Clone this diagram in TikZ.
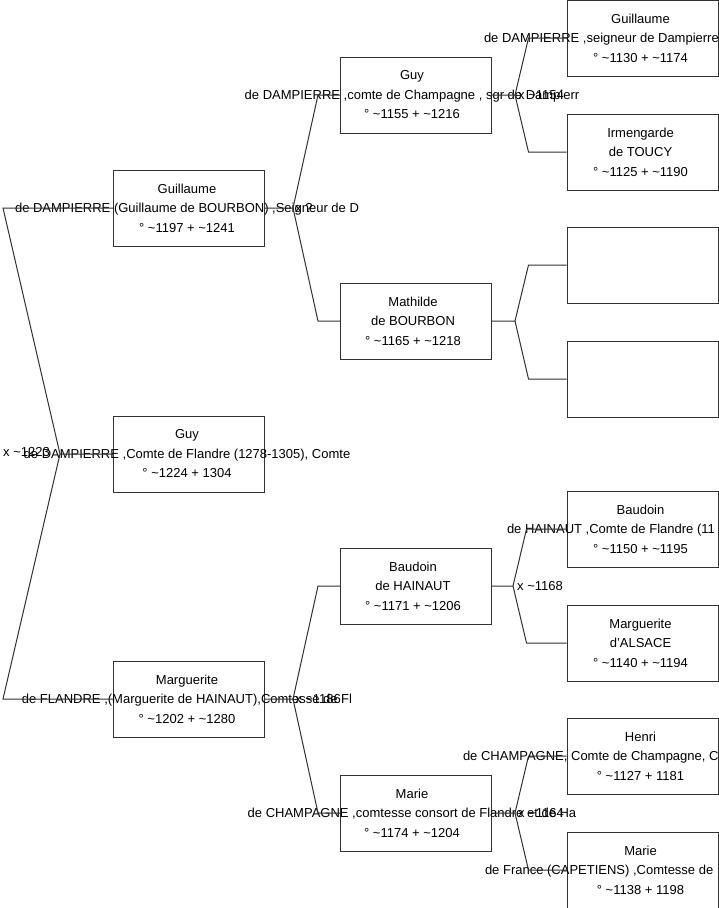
\documentclass[tikz,border=0pt]{standalone}
\usepackage{fontspec}
\setmainfont{Liberation Sans}
\definecolor{ln}{RGB}{50,50,50}
\begin{document}
\begin{tikzpicture}[x=1pt,y=-1pt,
  pbox/.style={draw=ln, line width=1pt, minimum width=151pt, minimum height=76pt, inner sep=0pt},
  ptext/.style={align=center, inner sep=0pt, xshift=-2pt, font=\fontsize{13}{19.5}\selectfont},
  conn/.style={draw=ln, line width=1pt},
  mlab/.style={anchor=west, inner sep=0pt, font=\fontsize{13}{15}\selectfont}]
\useasboundingbox (0,0) rectangle (719,908);
\fill[white] (0,0) rectangle (719,908);
% column 1
\node[pbox] (guil1) at (189,208) {};
\node[pbox] (guy1)  at (189,454) {};
\node[pbox] (marg1) at (189,699) {};
% column 2
\node[pbox] (guy2)  at (416,95) {};
\node[pbox] (math2) at (416,321) {};
\node[pbox] (baud2) at (416,586) {};
\node[pbox] (marie2) at (416,813) {};
% column 3
\node[pbox] (guil3) at (642.5,38) {};
\node[pbox] (irm3)  at (642.5,152) {};
\node[pbox] (emp3a) at (642.5,265) {};
\node[pbox] (emp3b) at (642.5,379) {};
\node[pbox] (baud3) at (642.5,529) {};
\node[pbox] (marg3) at (642.5,643) {};
\node[pbox] (henri3) at (642.5,756) {};
\node[pbox] (marie3) at (642.5,870) {};
% texts
\node[ptext] at (guil1) {Guillaume\\de DAMPIERRE (Guillaume de BOURBON) ,Seigneur de D\\° \textasciitilde1197 + \textasciitilde1241};
\node[ptext] at (guy1) {Guy\\de DAMPIERRE ,Comte de Flandre (1278-1305), Comte\\° \textasciitilde1224 + 1304};
\node[ptext] at (marg1) {Marguerite\\de FLANDRE ,(Marguerite de HAINAUT),Comtesse de Fl\\° \textasciitilde1202 + \textasciitilde1280};
\node[ptext,xshift=-2pt] at (guy2) {Guy\\de DAMPIERRE ,comte de Champagne , sgr de Dampierr\\° \textasciitilde1155 + \textasciitilde1216};
\node[ptext,xshift=-1pt] at (math2) {Mathilde\\de BOURBON\\° \textasciitilde1165 + \textasciitilde1218};
\node[ptext,xshift=-1pt] at (baud2) {Baudoin\\de HAINAUT\\° \textasciitilde1171 + \textasciitilde1206};
\node[ptext,xshift=-2pt] at (marie2) {Marie\\de CHAMPAGNE ,comtesse consort de Flandre et de Ha\\° \textasciitilde1174 + \textasciitilde1204};
\begin{scope}
\clip (0,0) rectangle (717,908);
\node[ptext] at (guil3) {Guillaume\\\makebox[0pt][l]{\kern-156.5pt de DAMPIERRE ,seigneur de Dampierre}\\° \textasciitilde1130 + \textasciitilde1174};
\node[ptext] at (irm3) {Irmengarde\\de TOUCY\\° \textasciitilde1125 + \textasciitilde1190};
\node[ptext] at (baud3) {Baudoin\\\makebox[0pt][l]{\kern-133.5pt de HAINAUT ,Comte de Flandre (11}\\° \textasciitilde1150 + \textasciitilde1195};
\node[ptext] at (marg3) {Marguerite\\d'ALSACE\\° \textasciitilde1140 + \textasciitilde1194};
\node[ptext] at (henri3) {Henri\\\makebox[0pt][l]{\kern-177.5pt de CHAMPAGNE, Comte de Champagne, C}\\° \textasciitilde1127 + 1181};
\node[ptext] at (marie3) {Marie\\\makebox[0pt][l]{\kern-155.5pt de France (CAPETIENS) ,Comtesse de}\\° \textasciitilde1138 + 1198};
\end{scope}
% connectors
\draw[conn] (guy1.west) -- ++(-53,0) coordinate (f0) -- ([xshift=-110pt]guil1.west) -- (guil1.west);
\draw[conn] (f0) -- ([xshift=-110pt]marg1.west) -- (marg1.west);
\node[mlab] at (3,452) {x \textasciitilde1223};
\draw[conn] (guil1.east) -- ++(28,0) coordinate (f1) -- ([xshift=-22pt]guy2.west) -- (guy2.west);
\draw[conn] (f1) -- ([xshift=-22pt]math2.west) -- (math2.west);
\node[mlab] at ([xshift=2pt]f1) {x ?};
\draw[conn] (marg1.east) -- ++(28,0) coordinate (f2) -- ([xshift=-22pt]baud2.west) -- (baud2.west);
\draw[conn] (f2) -- ([xshift=-22pt]marie2.west) -- (marie2.west);
\node[mlab] at ([xshift=2pt]f2) {x \textasciitilde1186};
\draw[conn] (guy2.east) -- ++(23,0) coordinate (f3) -- ([xshift=-38pt]guil3.west) -- (guil3.west);
\draw[conn] (f3) -- ([xshift=-38pt]irm3.west) -- (irm3.west);
\node[mlab] at ([xshift=3pt]f3) {x \textasciitilde1154};
\draw[conn] (math2.east) -- ++(23,0) coordinate (f4) -- ([xshift=-38pt]emp3a.west) -- (emp3a.west);
\draw[conn] (f4) -- ([xshift=-38pt]emp3b.west) -- (emp3b.west);
\draw[conn] (baud2.east) -- ++(21,0) coordinate (f5) -- ([xshift=-40pt]baud3.west) -- (baud3.west);
\draw[conn] (f5) -- ([xshift=-40pt]marg3.west) -- (marg3.west);
\node[mlab] at ([xshift=4pt]f5) {x \textasciitilde1168};
\draw[conn] (marie2.east) -- ++(23,0) coordinate (f6) -- ([xshift=-38pt]henri3.west) -- (henri3.west);
\draw[conn] (f6) -- ([xshift=-38pt]marie3.west) -- (marie3.west);
\node[mlab] at ([xshift=3pt]f6) {x \textasciitilde1164};
\end{tikzpicture}
\end{document}
